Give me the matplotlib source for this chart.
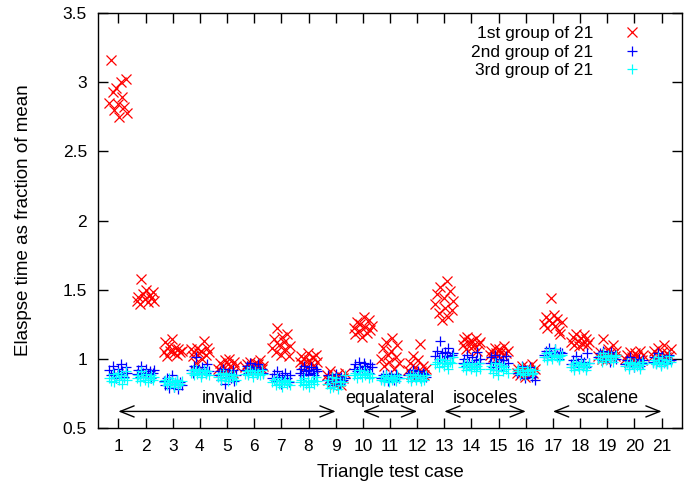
import matplotlib
matplotlib.use('Agg')
import matplotlib.pyplot as plt
import numpy as np

plt.rcParams['font.family'] = ['Liberation Sans', 'DejaVu Sans']

cases = list(range(1, 22))

# elapsed time / mean, per test case (rows) for each group of 21 runs
group1 = [
    [2.85, 3.16, 2.93, 2.80, 2.96, 2.84, 2.75, 3.00, 2.89, 2.82, 3.02, 2.78],
    [1.42, 1.45, 1.40, 1.58, 1.47, 1.43, 1.50, 1.41, 1.46, 1.44, 1.48, 1.42],
    [1.05, 1.12, 1.02, 1.09, 1.06, 1.14, 1.04, 1.08, 1.03, 1.07, 1.05, 1.06],
    [1.07, 1.02, 1.05, 0.97, 1.08, 1.04, 1.06, 1.00, 1.13, 1.03, 1.08, 1.05],
    [0.93, 0.97, 0.91, 0.95, 0.99, 0.92, 0.96, 1.00, 0.94, 0.90, 0.98, 0.95],
    [0.94, 0.96, 0.92, 0.98, 0.95, 0.93, 0.97, 0.94, 0.96, 0.99, 0.93, 0.95],
    [1.08, 1.14, 1.05, 1.22, 1.10, 1.03, 1.16, 1.12, 1.07, 1.18, 1.02, 1.09],
    [0.98, 1.02, 0.96, 1.00, 0.95, 1.04, 0.99, 0.97, 1.01, 0.94, 1.03, 0.98],
    [0.88, 0.85, 0.91, 0.83, 0.87, 0.82, 0.86, 0.89, 0.84, 0.81, 0.86, 0.90],
    [1.22, 1.18, 1.27, 1.20, 1.25, 1.16, 1.30, 1.23, 1.19, 1.28, 1.21, 1.24],
    [1.00, 1.08, 0.95, 1.12, 1.03, 0.98, 1.06, 1.15, 0.93, 1.01, 1.10, 0.97],
    [0.92, 0.97, 0.89, 1.02, 0.94, 0.87, 0.99, 1.11, 0.91, 0.95, 0.88, 0.93],
    [1.40, 1.47, 1.33, 1.52, 1.28, 1.44, 1.37, 1.56, 1.30, 1.49, 1.35, 1.42],
    [1.10, 1.14, 1.07, 1.16, 1.12, 1.08, 1.13, 1.10, 1.15, 1.06, 1.11, 1.12],
    [1.03, 1.06, 1.01, 1.08, 1.04, 1.02, 1.07, 1.05, 1.03, 1.09, 1.04, 1.06],
    [0.90, 0.93, 0.88, 0.95, 0.91, 0.87, 0.94, 0.92, 0.89, 0.96, 0.90, 0.93],
    [1.25, 1.30, 1.22, 1.28, 1.44, 1.26, 1.32, 1.24, 1.29, 1.20, 1.18, 1.27],
    [1.12, 1.16, 1.10, 1.18, 1.13, 1.09, 1.15, 1.11, 1.17, 1.14, 1.10, 1.12],
    [1.02, 1.05, 1.00, 1.14, 1.03, 0.99, 1.07, 1.04, 1.01, 1.10, 1.02, 1.06],
    [1.00, 1.03, 0.98, 1.05, 1.01, 0.99, 1.04, 1.02, 1.00, 1.06, 0.99, 1.03],
    [1.02, 1.06, 1.00, 1.08, 1.03, 0.99, 1.05, 1.10, 1.01, 1.04, 1.02, 1.07],
]
group2 = [
    [0.92, 0.88, 0.95, 0.90, 0.86, 0.93, 0.89, 0.96, 0.91, 0.87, 0.94, 0.90],
    [0.89, 0.92, 0.87, 0.95, 0.90, 0.88, 0.93, 0.89, 0.91, 0.86, 0.90, 0.92],
    [0.84, 0.81, 0.86, 0.79, 0.83, 0.88, 0.80, 0.82, 0.85, 0.78, 0.83, 0.81],
    [0.92, 0.90, 0.95, 1.01, 0.91, 0.93, 0.89, 0.94, 0.92, 0.90, 0.96, 0.91],
    [0.88, 0.91, 0.85, 0.93, 0.82, 0.89, 0.87, 0.90, 0.86, 0.92, 0.84, 0.88],
    [0.92, 0.95, 0.90, 0.97, 0.93, 0.91, 0.94, 0.89, 0.96, 0.92, 0.93, 0.90],
    [0.86, 0.89, 0.84, 0.91, 0.87, 0.82, 0.88, 0.85, 0.90, 0.86, 0.83, 0.88],
    [0.90, 0.93, 0.88, 0.95, 0.91, 0.89, 0.92, 0.94, 0.90, 0.88, 0.93, 0.91],
    [0.85, 0.88, 0.83, 0.87, 0.81, 0.86, 0.89, 0.84, 0.82, 0.87, 0.85, 0.86],
    [0.93, 0.96, 0.91, 0.98, 0.94, 0.92, 0.97, 0.95, 0.93, 0.90, 0.96, 0.94],
    [0.86, 0.88, 0.85, 0.89, 0.84, 0.87, 0.88, 0.86, 0.85, 0.89, 0.87, 0.86],
    [0.88, 0.90, 0.86, 0.92, 0.89, 0.87, 0.91, 0.88, 0.86, 0.90, 0.89, 0.87],
    [1.02, 1.06, 1.00, 1.13, 1.04, 0.99, 1.05, 1.02, 1.08, 1.01, 1.03, 1.04],
    [0.97, 1.00, 0.95, 1.03, 0.98, 0.94, 1.01, 0.96, 0.99, 1.05, 0.97, 1.00],
    [0.97, 1.01, 0.94, 1.03, 0.98, 0.92, 1.00, 0.96, 0.99, 0.95, 1.02, 0.97],
    [0.90, 0.93, 0.88, 0.95, 0.91, 0.86, 0.92, 0.89, 0.94, 0.87, 0.90, 0.85],
    [1.03, 1.06, 1.01, 1.08, 1.04, 1.02, 1.05, 1.07, 1.03, 1.00, 1.05, 1.04],
    [0.96, 0.99, 0.94, 1.02, 0.97, 0.95, 1.00, 0.96, 0.98, 0.94, 1.04, 0.97],
    [1.01, 1.04, 0.99, 1.06, 1.02, 1.00, 1.03, 0.98, 1.05, 1.01, 1.03, 1.00],
    [0.96, 0.99, 0.95, 1.01, 0.97, 0.94, 0.98, 0.96, 1.00, 0.95, 0.97, 0.99],
    [0.98, 1.01, 0.97, 1.04, 0.99, 0.96, 1.02, 0.98, 1.00, 0.97, 1.03, 0.99],
]
group3 = [
    [0.86, 0.84, 0.89, 0.83, 0.87, 0.90, 0.85, 0.88, 0.82, 0.86, 0.91, 0.85],
    [0.86, 0.88, 0.84, 0.91, 0.87, 0.85, 0.89, 0.83, 0.86, 0.88, 0.85, 0.87],
    [0.83, 0.85, 0.81, 0.86, 0.82, 0.84, 0.80, 0.83, 0.85, 0.81, 0.82, 0.84],
    [0.90, 0.92, 0.88, 0.93, 0.89, 0.91, 0.87, 0.90, 0.92, 0.89, 0.91, 0.88],
    [0.87, 0.89, 0.85, 0.90, 0.86, 0.88, 0.84, 0.87, 0.89, 0.86, 0.88, 0.85],
    [0.89, 0.91, 0.88, 0.92, 0.90, 0.87, 0.91, 0.89, 0.90, 0.88, 0.92, 0.89],
    [0.83, 0.85, 0.81, 0.86, 0.82, 0.84, 0.80, 0.83, 0.85, 0.82, 0.84, 0.81],
    [0.83, 0.85, 0.81, 0.86, 0.82, 0.84, 0.80, 0.83, 0.85, 0.82, 0.87, 0.84],
    [0.82, 0.85, 0.79, 0.87, 0.80, 0.83, 0.86, 0.78, 0.84, 0.81, 0.83, 0.88],
    [0.88, 0.90, 0.86, 0.92, 0.89, 0.87, 0.91, 0.88, 0.90, 0.86, 0.89, 0.87],
    [0.85, 0.87, 0.84, 0.88, 0.86, 0.83, 0.87, 0.85, 0.86, 0.84, 0.88, 0.86],
    [0.86, 0.88, 0.84, 0.89, 0.87, 0.85, 0.88, 0.86, 0.84, 0.87, 0.85, 0.88],
    [0.96, 0.98, 0.94, 1.00, 0.97, 0.95, 0.99, 0.96, 0.93, 0.98, 0.97, 1.01],
    [0.94, 0.96, 0.92, 0.97, 0.95, 0.93, 0.96, 0.94, 0.91, 0.95, 0.97, 0.93],
    [0.93, 0.95, 0.90, 0.97, 0.92, 0.88, 0.96, 0.94, 0.91, 0.95, 0.93, 0.90],
    [0.91, 0.93, 0.89, 0.94, 0.90, 0.88, 0.92, 0.91, 0.93, 0.89, 0.90, 0.92],
    [1.01, 1.04, 0.99, 1.05, 1.02, 1.00, 1.03, 1.07, 1.01, 0.99, 1.02, 1.03],
    [0.94, 0.96, 0.92, 0.98, 0.95, 0.93, 0.97, 0.94, 0.96, 0.92, 0.95, 0.97],
    [1.00, 1.02, 0.98, 1.04, 1.01, 0.99, 1.03, 1.00, 1.02, 0.98, 1.01, 1.03],
    [0.95, 0.97, 0.93, 0.98, 0.96, 0.94, 0.97, 0.95, 0.96, 0.93, 0.98, 0.96],
    [0.97, 0.99, 0.96, 1.01, 0.98, 0.95, 1.00, 0.97, 0.99, 0.96, 1.02, 0.98],
]

# test case categories: (label, first case, last case, label x)
categories = [('invalid', 1, 9, 5), ('equalateral', 10, 12, 11),
              ('isoceles', 13, 16, 14.5), ('scalene', 17, 21, 19)]

fig = plt.figure(figsize=(6.94, 4.87), dpi=100)
ax = fig.add_axes([0.1412, 0.1211, 0.8415, 0.8522])

def spread(case, n):
    return case + np.linspace(-0.33, 0.33, n)

series = [(group1, 'x', 'red', '1st group of 21'),
          (group2, '+', 'blue', '2nd group of 21'),
          (group3, '+', 'cyan', '3rd group of 21')]
for vals, mk, col, lab in series:
    xs, ys = [], []
    for c, row in zip(cases, vals):
        xs.extend(spread(c, len(row)))
        ys.extend(row)
    ax.plot(xs, ys, linestyle='none', marker=mk, color=col, markersize=7,
            markeredgewidth=0.9, label=lab)

for lab, a, b, lx in categories:
    ax.annotate('', xy=(b, 0.62), xytext=(a, 0.62),
                arrowprops=dict(arrowstyle='<->,head_length=1.0,head_width=0.4',
                                color='black', lw=1, shrinkA=0, shrinkB=0))
    ax.text(lx, 0.71, lab, ha='center', va='center', fontsize=13)

ax.set_xlim(0.25, 21.75)
ax.set_ylim(0.5, 3.5)
ax.set_xticks(cases)
ax.set_yticks(np.arange(0.5, 3.51, 0.5))
ax.set_yticklabels(['0.5', '1', '1.5', '2', '2.5', '3', '3.5'])
ax.tick_params(direction='in', top=True, right=True, length=7, width=1,
               labelsize=12.5, pad=8)
for s in ax.spines.values():
    s.set_linewidth(1)

ax.set_xlabel('Triangle test case', fontsize=13.5, labelpad=7)
ax.set_ylabel('Elaspse time as fraction of mean', fontsize=13.5, labelpad=22)

ax.legend(loc='upper right', bbox_to_anchor=(1.0, 1.048), markerfirst=False,
          frameon=False, fontsize=12.5, handletextpad=1.2, labelspacing=0.2,
          borderaxespad=1.5, handlelength=2)

plt.savefig('out.png', dpi=100)
